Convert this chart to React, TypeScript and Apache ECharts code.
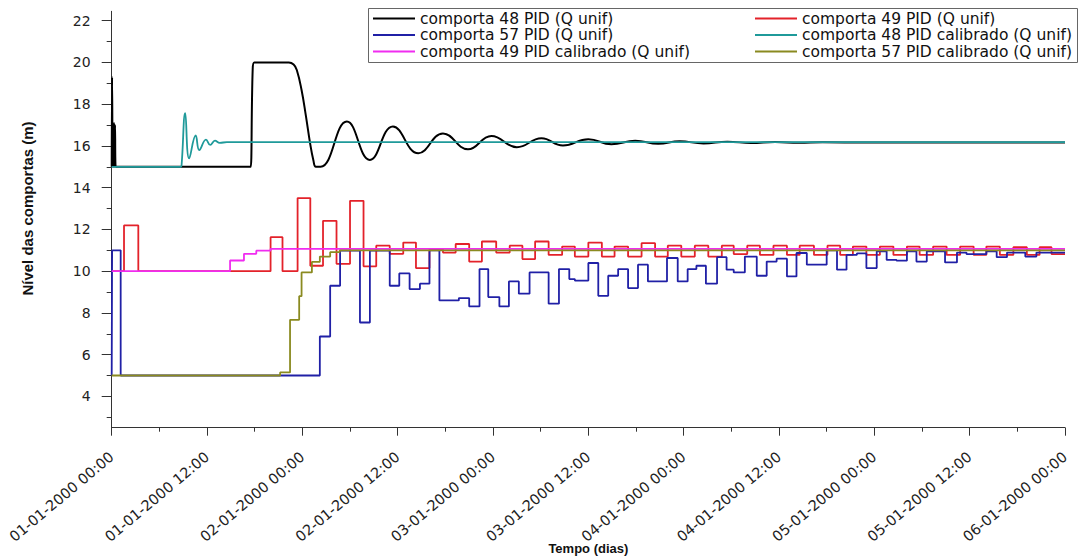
import React, { useEffect, useRef } from "react";
import * as echarts from "echarts";

// Tick labels of the time axis (one every 12 h)
const timeTickLabels = [
  "01-01-2000 00:00",
  "01-01-2000 12:00",
  "02-01-2000 00:00",
  "02-01-2000 12:00",
  "03-01-2000 00:00",
  "03-01-2000 12:00",
  "04-01-2000 00:00",
  "04-01-2000 12:00",
  "05-01-2000 00:00",
  "05-01-2000 12:00",
  "06-01-2000 00:00",
];
const levelTicks = [4, 6, 8, 10, 12, 14, 16, 18, 20, 22];
const levelMinorTicks = [3, 5, 7, 9, 11, 13, 15, 17, 19, 21];

const seriesNames = [
  "comporta 48 PID (Q unif)",
  "comporta 49 PID (Q unif)",
  "comporta 57 PID (Q unif)",
  "comporta 48 PID calibrado (Q unif)",
  "comporta 49 PID calibrado (Q unif)",
  "comporta 57 PID calibrado (Q unif)",
];
const seriesColors = ["#000000", "#e3222a", "#2020a6", "#1f9a9a", "#f02cf0", "#8a8a20"];

// [hours since start, level (m)]
const gate48Pid: [number, number][] = [
  [0, 15], [0.05, 19.3], [0.12, 15], [0.18, 17.1], [0.24, 15], [0.3, 17.1], [0.36, 15],
  [0.42, 17.0], [0.5, 15], [0.6, 15], [17.4, 15], [17.5, 15], [17.75, 19.7], [17.95, 20],
  [18.1, 20], [22.3, 20], [22.9, 19.9], [23.3, 19.64], [23.9, 18.68], [24.46, 17.4],
  [24.96, 16.16], [25.38, 15.33], [25.7, 15.0], [26.3, 15.0], [29.6, 17.17], [32.5, 15.33],
  [35.4, 16.93], [38.6, 15.65], [41.7, 16.6], [44.85, 15.84], [47.8, 16.48], [51.0, 15.94],
  [54.1, 16.37], [56.8, 16.02], [60.0, 16.32], [62.9, 16.08], [65.9, 16.25], [68.8, 16.1],
  [71.5, 16.22], [74.5, 16.12], [77.5, 16.2], [80.5, 16.14], [83.5, 16.19], [86.5, 16.15],
  [89.5, 16.18], [95, 16.16], [120, 16.16],
];

const gate49Pid: [number, number][] = [
  [0, 10], [1.55, 12.19], [3.35, 10], [20.0, 11.63], [21.5, 10], [23.4, 13.5], [25.0, 10.26],
  [26.6, 12.41], [28.3, 10.35], [30.0, 13.37], [31.7, 10.23], [33.3, 11.22], [35.0, 10.83],
  [36.7, 11.37], [38.3, 10.15], [40.0, 11.06], [41.7, 10.89], [43.3, 11.3], [45.0, 10.46],
  [46.6, 11.42], [48.4, 10.89], [50.1, 11.22], [51.7, 10.58], [53.3, 11.42], [55.0, 10.78],
  [56.7, 11.18], [58.3, 10.7], [60.0, 11.37], [61.7, 10.7], [63.3, 11.18], [65.0, 10.7],
  [66.7, 11.34], [68.4, 10.7], [70.0, 11.22], [71.7, 10.7], [73.4, 11.22], [75.1, 10.7],
  [76.8, 11.22], [78.3, 10.82], [80.0, 11.22], [81.6, 10.78], [83.3, 11.22], [85.0, 10.78],
  [86.6, 11.22], [88.4, 10.78], [90.1, 11.22], [91.7, 10.78], [93.3, 11.18], [95.0, 10.78],
  [96.7, 11.18], [98.4, 10.78], [100.1, 11.18], [101.7, 10.78], [103.4, 11.18], [105.1, 10.78],
  [106.8, 11.18], [108.5, 10.78], [110.1, 11.18], [111.8, 10.78], [113.5, 11.15], [115.2, 10.78],
  [116.8, 11.15], [118.3, 10.82], [120, 10.82],
];

const gate57Pid: [number, number][] = [
  [0, 5], [0.05, 11.0], [1.13, 5.0], [26.2, 6.87], [27.5, 9.3], [28.75, 10.98], [31.25, 7.54],
  [32.5, 10.98], [35.0, 9.3], [36.2, 9.89], [37.5, 9.14], [38.8, 9.4], [40.0, 11.0],
  [41.25, 8.6], [43.7, 8.71], [45.0, 8.31], [46.3, 10.1], [47.4, 8.76], [48.8, 8.31],
  [50.0, 9.51], [51.25, 8.92], [52.6, 9.94], [55.0, 8.44], [56.3, 10.1], [57.6, 9.62],
  [58.3, 9.55], [60.0, 10.39], [61.25, 8.82], [62.5, 9.78], [63.75, 10.1], [65.0, 9.19],
  [66.25, 10.31], [67.5, 9.51], [69.9, 10.63], [71.25, 9.51], [72.5, 10.1], [73.6, 10.26],
  [74.8, 9.4], [76.2, 10.67], [77.4, 10.07], [78.3, 9.94], [79.7, 10.7], [81.2, 9.78],
  [82.45, 10.46], [83.7, 10.6], [85.0, 9.75], [86.2, 10.87], [87.5, 10.31], [90.0, 11.0],
  [91.3, 10.07], [92.5, 10.78], [93.8, 10.85], [95.0, 10.15], [96.3, 10.95], [97.55, 10.54],
  [98.8, 10.5], [100.1, 10.95], [101.3, 10.46], [102.6, 10.95], [104.9, 10.42], [106.4, 10.89],
  [107.6, 10.82], [110.1, 10.95], [111.4, 10.67], [112.7, 10.89], [115.0, 10.7], [116.4, 10.89],
  [120, 10.89],
];

const gate48Calibrated: [number, number][] = [
  [0, 15], [8.7, 15], [8.8, 15.1], [9.25, 17.57], [9.75, 15.4], [10.57, 16.5], [11.03, 15.8],
  [11.87, 16.3], [12.4, 16.05], [13.0, 16.25], [13.6, 16.15], [14.5, 16.18], [120, 16.18],
];

const gate49Calibrated: [number, number][] = [
  [0, 10], [14.9, 10.51], [16.65, 10.83], [18.2, 10.98], [20.0, 11.07], [120, 11.07],
];

const gate57Calibrated: [number, number][] = [
  [0, 5], [21.2, 5.15], [22.45, 7.67], [23.6, 8.8], [23.9, 9.94], [25.2, 10.44], [26.2, 10.7],
  [27.5, 10.91], [28.7, 11.0], [120, 11.0],
];

const FONT = "'DejaVu Sans', sans-serif";
const TITLE_FONT = "'Liberation Sans', Arial, sans-serif";
const AXIS_COLOR = "#333";

// Legend layout: two columns of three rows
const legendColumnsLeft = [373, 755];
const legendRowCenters = [18.5, 35, 51.5];

export default function App() {
  const ref = useRef<HTMLDivElement>(null);

  useEffect(() => {
    if (!ref.current) return;
    const chart = echarts.init(ref.current, null, { renderer: "svg" });

    const curve = (name: string, data: [number, number][], width: number) => ({
      name,
      type: "line",
      data,
      smooth: 0.45,
      showSymbol: false,
      symbol: "none",
      lineStyle: { width },
    });
    const steps = (name: string, data: [number, number][], width: number) => ({
      name,
      type: "line",
      data,
      step: "end",
      showSymbol: false,
      symbol: "none",
      lineStyle: { width },
    });

    const LEGEND_LINE_H = 16;
    const legends = seriesNames.map((name, i) => ({
      data: [name],
      orient: "vertical",
      left: legendColumnsLeft[i % 2],
      top: legendRowCenters[Math.floor(i / 2)] - LEGEND_LINE_H / 2,
      padding: 0,
      itemGap: 0,
      itemWidth: 42,
      itemHeight: 2,
      icon: "rect",
      selectedMode: false,
      textStyle: { fontFamily: FONT, fontSize: 15.5, color: "#111", lineHeight: LEGEND_LINE_H },
    }));

    chart.setOption({
      animation: false,
      color: seriesColors,
      grid: {
        left: 111.7,
        right: 18,
        top: 11.3,
        bottom: 131.3,
        containLabel: false,
        outerBoundsMode: "none",
      },
      xAxis: {
        type: "value",
        min: 0,
        max: 120,
        interval: 12,
        name: "Tempo (dias)",
        nameLocation: "middle",
        nameGap: 114,
        nameMoveOverlap: false,
        nameTextStyle: { fontFamily: TITLE_FONT, fontWeight: "bold", fontSize: 13, color: "#111" },
        axisLine: { onZero: false, lineStyle: { color: AXIS_COLOR, width: 1 } },
        axisTick: { length: 8, lineStyle: { color: AXIS_COLOR } },
        minorTick: { show: true, splitNumber: 2, length: 4, lineStyle: { color: AXIS_COLOR } },
        splitLine: { show: false },
        axisLabel: {
          rotate: 40,
          margin: 27,
          fontFamily: FONT,
          fontSize: 14.5,
          color: "#222",
          formatter: (v: number) => timeTickLabels[Math.round(v / 12)] ?? "",
        },
      },
      yAxis: [
        {
          type: "value",
          min: 2.5,
          max: 22.45,
          name: "Nível das comportas (m)",
          nameLocation: "middle",
          nameGap: 77,
          nameMoveOverlap: false,
          nameTextStyle: {
            fontFamily: TITLE_FONT,
            fontWeight: "bold",
            fontSize: 15,
            color: "#111",
            padding: [0, 0, 0, 22],
          },
          axisLine: { show: true, onZero: false, lineStyle: { color: AXIS_COLOR, width: 1 } },
          axisTick: { show: true, length: 10, customValues: levelTicks, lineStyle: { color: AXIS_COLOR } },
          axisLabel: {
            customValues: levelTicks,
            margin: 21,
            fontFamily: FONT,
            fontSize: 14,
            color: "#222",
          },
          splitLine: { show: false },
        },
        {
          type: "value",
          min: 2.5,
          max: 22.45,
          position: "left",
          axisLine: { show: false },
          axisTick: { show: true, length: 5, customValues: levelMinorTicks, lineStyle: { color: AXIS_COLOR } },
          axisLabel: { show: false },
          splitLine: { show: false },
        },
      ],
      legend: legends,
      graphic: [
        {
          type: "rect",
          shape: { x: 368.5, y: 8.5, width: 709, height: 54 },
          style: { fill: "none", stroke: "#666", lineWidth: 1 },
          z: 10,
        },
      ],
      series: [
        curve(seriesNames[0], gate48Pid, 2),
        steps(seriesNames[1], gate49Pid, 1.8),
        steps(seriesNames[2], gate57Pid, 1.8),
        curve(seriesNames[3], gate48Calibrated, 1.8),
        steps(seriesNames[4], gate49Calibrated, 1.8),
        steps(seriesNames[5], gate57Calibrated, 1.8),
      ],
    });

    return () => chart.dispose();
  }, []);

  return (
    <div
      ref={ref}
      style={{ position: "fixed", left: 0, top: 0, width: 1083, height: 559, background: "#fff" }}
    />
  );
}
